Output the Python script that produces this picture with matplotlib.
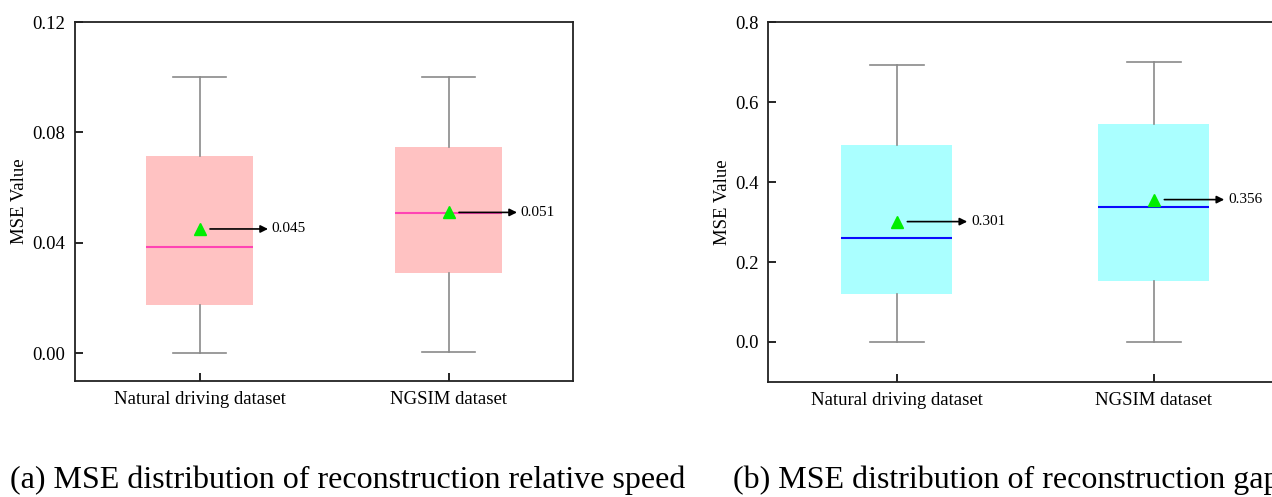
import matplotlib.pyplot as plt

plt.rcParams['font.family'] = ['Liberation Serif', 'DejaVu Serif']

datasets = ['Natural driving dataset', 'NGSIM dataset']

# (a) relative speed
speed_lo = [0.0, 0.0003]
speed_q1 = [0.0174, 0.029]
speed_med = [0.0384, 0.0507]
speed_q3 = [0.0713, 0.0746]
speed_hi = [0.0999, 0.0999]
speed_mean = [0.045, 0.051]

# (b) gap
gap_lo = [0.0, 0.0]
gap_q1 = [0.12, 0.1525]
gap_med = [0.26, 0.3375]
gap_q3 = [0.4925, 0.545]
gap_hi = [0.6925, 0.70]
gap_mean = [0.301, 0.356]

captions = ['(a) MSE distribution of reconstruction relative speed',
            '(b) MSE distribution of reconstruction gap']


def draw_panel(ax, lo, q1, med, q3, hi, mean, face, medcol, ylim, yticks, fmt):
    stats = []
    for i in range(len(datasets)):
        stats.append(dict(whislo=lo[i], q1=q1[i], med=med[i], q3=q3[i],
                          whishi=hi[i], mean=mean[i], fliers=[], label=datasets[i]))
    ax.bxp(stats, positions=[1, 2], widths=0.43, capwidths=0.21,
           patch_artist=True, showmeans=True, showfliers=False,
           boxprops=dict(facecolor=face, edgecolor='none'),
           whiskerprops=dict(color='#8a8a8a', linewidth=1.2),
           capprops=dict(color='#8a8a8a', linewidth=1.2),
           medianprops=dict(color=medcol, linewidth=1.5),
           meanprops=dict(marker='^', markerfacecolor='#00ee00',
                          markeredgecolor='#00ee00', markersize=8))
    for i, m in enumerate(mean):
        x0 = i + 1
        ax.annotate('', xy=(x0 + 0.275, m), xytext=(x0 + 0.042, m),
                    arrowprops=dict(arrowstyle='-|>', color='black', lw=1.2,
                                    mutation_scale=11, shrinkA=0, shrinkB=0))
        ax.text(x0 + 0.29, m, f'{m:.3f}', fontsize=11, va='center', ha='left')
    ax.set_xlim(0.5, 2.5)
    ax.set_ylim(*ylim)
    ax.set_yticks(yticks)
    ax.set_yticklabels([fmt.format(v) for v in yticks])
    ax.set_xticks([1, 2])
    ax.set_xticklabels(datasets)
    ax.tick_params(direction='in', length=6, width=1.2, labelsize=13.5)
    ax.tick_params(axis='y', pad=7)
    ax.tick_params(axis='x', pad=7)
    ax.set_ylabel('MSE Value', fontsize=13.5, labelpad=3)
    for s in ax.spines.values():
        s.set_linewidth(1.3)
        s.set_color('#222222')


fig = plt.figure(figsize=(12.72, 4.97), dpi=100)
ax1 = fig.add_axes([0.059, 0.2334, 0.3915, 0.7223])
ax2 = fig.add_axes([0.6038, 0.2314, 0.4041, 0.7243])

draw_panel(ax1, speed_lo, speed_q1, speed_med, speed_q3, speed_hi, speed_mean,
           '#ffc2c2', '#ff44b4', (-0.0101, 0.12), [0.0, 0.04, 0.08, 0.12], '{:.2f}')
draw_panel(ax2, gap_lo, gap_q1, gap_med, gap_q3, gap_hi, gap_mean,
           '#aaffff', '#0a0aff', (-0.1, 0.8), [0.0, 0.2, 0.4, 0.6, 0.8], '{:.1f}')

fig.text(10 / 1272, 1 - 488 / 497, captions[0], fontsize=23, va='baseline', ha='left')
fig.text(733 / 1272, 1 - 488 / 497, captions[1], fontsize=23, va='baseline', ha='left')

fig.savefig('out.png', dpi=100)
